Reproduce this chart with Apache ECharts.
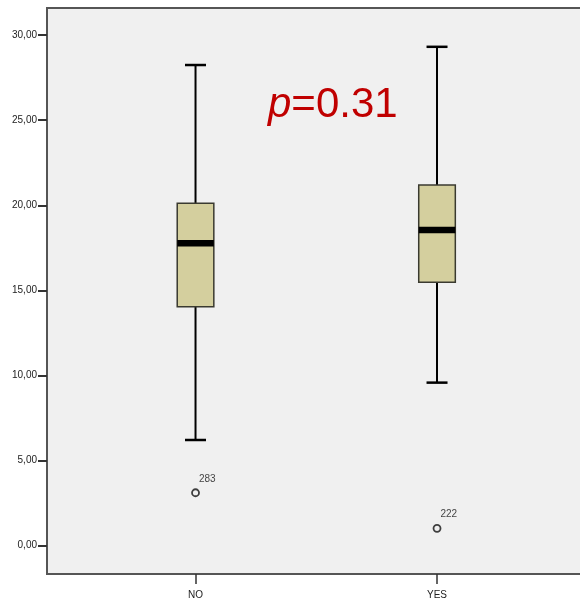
<!DOCTYPE html>
<html>
<head>
<meta charset="utf-8">
<script src="https://cdn.jsdelivr.net/npm/echarts@6/dist/echarts.min.js"></script>
<style>html,body{margin:0;padding:0;background:#fff;}#c{width:580px;height:603px;}</style>
</head>
<body>
<div id="c"></div>
<script>
// Data
const categories = ['NO', 'YES'];
const whiskerLow = [6.21, 9.58];
const q1 = [14.04, 15.48];
const median = [17.77, 18.55];
const q3 = [20.12, 21.19];
const whiskerHigh = [28.24, 29.31];
const outlierCategory = [0, 1];
const outlierValue = [3.11, 1.02];
const outlierLabel = ['283', '222'];
const yTicks = [0, 5, 10, 15, 20, 25, 30];
const annotation = '0.31';

const chart = echarts.init(document.getElementById('c'), null, {renderer: 'canvas'});

const boxData = categories.map((c, i) => [i, whiskerLow[i], q1[i], median[i], q3[i], whiskerHigh[i]]);
const outData = outlierValue.map((v, i) => ({value: [outlierCategory[i], v], name: outlierLabel[i]}));

function renderBox(params, api) {
  const x = api.value(0);
  const lo = api.coord([x, api.value(1)]);
  const b1 = api.coord([x, api.value(2)]);
  const md = api.coord([x, api.value(3)]);
  const b3 = api.coord([x, api.value(4)]);
  const hi = api.coord([x, api.value(5)]);
  const cx = lo[0];
  const halfBox = 18.3;
  const halfCap = 10.5;
  const lineStyle = {stroke: '#000', lineWidth: 2, fill: null};
  return {
    type: 'group',
    children: [
      {type: 'line', shape: {x1: cx, y1: hi[1], x2: cx, y2: b3[1]}, style: lineStyle},
      {type: 'line', shape: {x1: cx, y1: b1[1], x2: cx, y2: lo[1]}, style: lineStyle},
      {type: 'line', shape: {x1: cx - halfCap, y1: hi[1], x2: cx + halfCap, y2: hi[1]}, style: {stroke: '#000', lineWidth: 2.5}},
      {type: 'line', shape: {x1: cx - halfCap, y1: lo[1], x2: cx + halfCap, y2: lo[1]}, style: {stroke: '#000', lineWidth: 2.5}},
      {type: 'rect', shape: {x: cx - halfBox, y: b3[1], width: halfBox * 2, height: b1[1] - b3[1]},
        style: {fill: '#d4cf9e', stroke: '#3a3a30', lineWidth: 1.5}},
      {type: 'rect', shape: {x: cx - halfBox, y: md[1] - 3.3, width: halfBox * 2, height: 6.6},
        style: {fill: '#000'}}
    ]
  };
}

chart.setOption({
  animation: false,
  backgroundColor: '#ffffff',
  grid: {
    left: 47, top: 8, right: -117, bottom: 29,
    outerBoundsMode: 'none', containLabel: false,
    show: true, backgroundColor: '#f0f0f0', borderColor: '#555', borderWidth: 2
  },
  xAxis: {
    type: 'value', min: -0.615, max: 2.0765,
    splitLine: {show: false},
    axisLine: {show: false, onZero: false},
    axisTick: {show: true, customValues: [0, 1], length: 10, lineStyle: {color: '#333', width: 1.5}},
    axisLabel: {
      customValues: [0, 1],
      formatter: v => categories[Math.round(v)],
      fontFamily: 'Liberation Sans Narrow, Liberation Sans, Arial', fontSize: 10, color: '#222', margin: 16
    }
  },
  yAxis: {
    type: 'value', min: -1.663, max: 31.59,
    splitLine: {show: false},
    axisLine: {show: false, onZero: false},
    axisTick: {show: true, customValues: yTicks, length: 9, lineStyle: {color: '#333', width: 2}},
    axisLabel: {
      customValues: yTicks,
      formatter: v => v.toFixed(2).replace('.', ','),
      fontFamily: 'Liberation Sans Narrow, Liberation Sans, Arial', fontSize: 10, color: '#222', margin: 10
    }
  },
  series: [
    {
      type: 'custom',
      renderItem: renderBox,
      data: boxData,
      encode: {x: 0, y: [1, 2, 3, 4, 5]},
      clip: true,
      z: 2
    },
    {
      type: 'scatter',
      data: outData,
      symbol: 'circle',
      symbolSize: 7,
      itemStyle: {color: '#f0f0f0', borderColor: '#111', borderWidth: 1.8},
      label: {
        show: true, formatter: p => p.name, position: 'right',
        offset: [-6, -14], fontSize: 10, color: '#111',
        fontFamily: 'Liberation Sans Narrow, Liberation Sans, Arial'
      },
      z: 3
    }
  ],
  graphic: [
    {
      type: 'text', left: 268, top: 84, z: 10,
      style: {
        text: '{i|p}{n|=' + annotation + '}',
        rich: {
          i: {fontStyle: 'italic', fontSize: 42, fontFamily: 'Liberation Sans, Arial', fill: '#c00000'},
          n: {fontSize: 42, fontFamily: 'Liberation Sans, Arial', fill: '#c00000'}
        }
      }
    }
  ]
});
</script>
</body>
</html>
